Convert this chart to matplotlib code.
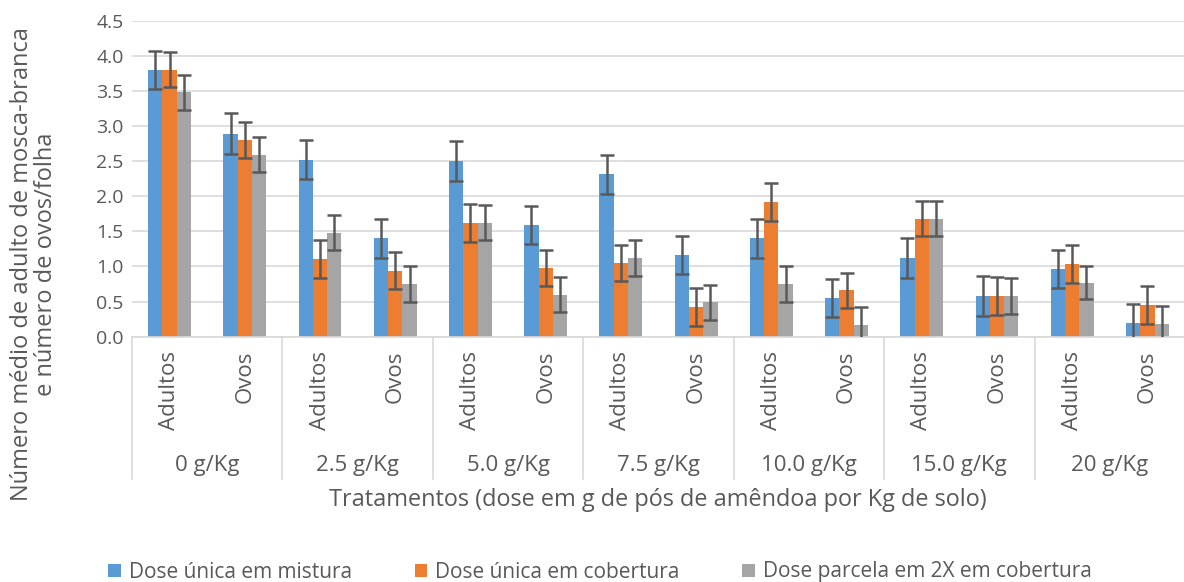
import numpy as np
import matplotlib
matplotlib.use("Agg")
from matplotlib import pyplot as plt
from matplotlib.transforms import blended_transform_factory
from matplotlib.lines import Line2D

doses = ['0 g/Kg', '2.5 g/Kg', '5.0 g/Kg', '7.5 g/Kg', '10.0 g/Kg', '15.0 g/Kg', '20 g/Kg']
kinds = ['Adultos', 'Ovos']
series = ['Dose única em mistura', 'Dose única em cobertura', 'Dose parcela em 2X em cobertura']

mistura = [3.80, 2.89, 2.52, 1.40, 2.50, 1.59, 2.31, 1.16, 1.40, 0.55, 1.12, 0.58, 0.96, 0.19]
mistura_err = [0.27, 0.29, 0.28, 0.28, 0.29, 0.27, 0.28, 0.27, 0.28, 0.27, 0.28, 0.28, 0.27, 0.28]
cobertura = [3.80, 2.80, 1.10, 0.94, 1.62, 0.98, 1.05, 0.42, 1.92, 0.66, 1.68, 0.58, 1.03, 0.45]
cobertura_err = [0.25, 0.25, 0.27, 0.26, 0.27, 0.26, 0.26, 0.27, 0.27, 0.25, 0.25, 0.27, 0.27, 0.27]
parcela = [3.48, 2.59, 1.48, 0.75, 1.62, 0.60, 1.12, 0.49, 0.75, 0.16, 1.68, 0.58, 0.77, 0.18]
parcela_err = [0.25, 0.25, 0.25, 0.26, 0.25, 0.25, 0.25, 0.25, 0.26, 0.26, 0.25, 0.25, 0.24, 0.26]

colors = ['#5B9BD5', '#ED7D31', '#A5A5A5']
txt = '#595959'
plt.rcParams['font.family'] = ['Open Sans', 'DejaVu Sans']

W, H = 1184, 582
fig = plt.figure(figsize=(W / 100, H / 100), dpi=100)
ax = fig.add_axes([132 / W, 1 - 336.7 / H, 1053 / W, 316.1 / H])

x = np.arange(len(mistura))
bw = 0.19
vals = [mistura, cobertura, parcela]
errs = [mistura_err, cobertura_err, parcela_err]
for k in range(3):
    pos = x + (k - 1) * bw
    ax.bar(pos, vals[k], bw, color=colors[k], label=series[k], zorder=2)
    ax.errorbar(pos, vals[k], yerr=errs[k], fmt='none', ecolor='#595959',
                elinewidth=1.8, capsize=4.8, capthick=1.8, zorder=3)

ax.set_xlim(-0.5, len(mistura) - 0.5)
ax.set_ylim(0, 4.5)
ax.set_yticks(np.arange(0, 4.51, 0.5))
ax.set_yticklabels(['{:.1f}'.format(v) for v in np.arange(0, 4.51, 0.5)])
ax.tick_params(axis='y', length=0, pad=6, labelsize=14, labelcolor=txt)
ax.set_xticks([])
ax.grid(axis='y', color='#D9D9D9', lw=1.2, zorder=0)
ax.set_axisbelow(True)
for s in ['left', 'right', 'top']:
    ax.spines[s].set_visible(False)
ax.spines['bottom'].set_color('#D9D9D9')
ax.spines['bottom'].set_linewidth(1.2)

# multi-level category axis
tr = blended_transform_factory(ax.transData, fig.transFigure)
for i in range(len(mistura)):
    ax.text(i, 1 - 351 / H, kinds[i % 2], rotation=90, ha='center', va='top',
            fontsize=16, color=txt, transform=tr)
for j, d in enumerate(doses):
    ax.text(2 * j + 0.5, 1 - 465 / H, d, ha='center', va='center',
            fontsize=16, color=txt, transform=tr)
for j in range(len(doses)):
    ax.add_line(Line2D([2 * j - 0.5, 2 * j - 0.5], [1 - 337 / H, 1 - 479 / H],
                       color='#D9D9D9', lw=1.2, transform=tr, clip_on=False))

fig.text(658 / W, 1 - 500 / H, 'Tratamentos (dose em g de pós de amêndoa por Kg de solo)',
         ha='center', va='center', fontsize=16.9, color=txt)
fig.text(34 / W, 1 - 264 / H, 'Número médio de adulto de mosca-branca\ne número de ovos/folha',
         rotation=90, ha='center', va='center', multialignment='center',
         fontsize=17, color=txt, linespacing=0.95)

fig.legend(loc='center', bbox_to_anchor=(600 / W, 1 - 572 / H), ncol=3, frameon=False,
           fontsize=15, handlelength=0.6, handleheight=0.6, columnspacing=3.0,
           handletextpad=0.4, labelcolor=txt)

fig.savefig('out.png', dpi=100)
